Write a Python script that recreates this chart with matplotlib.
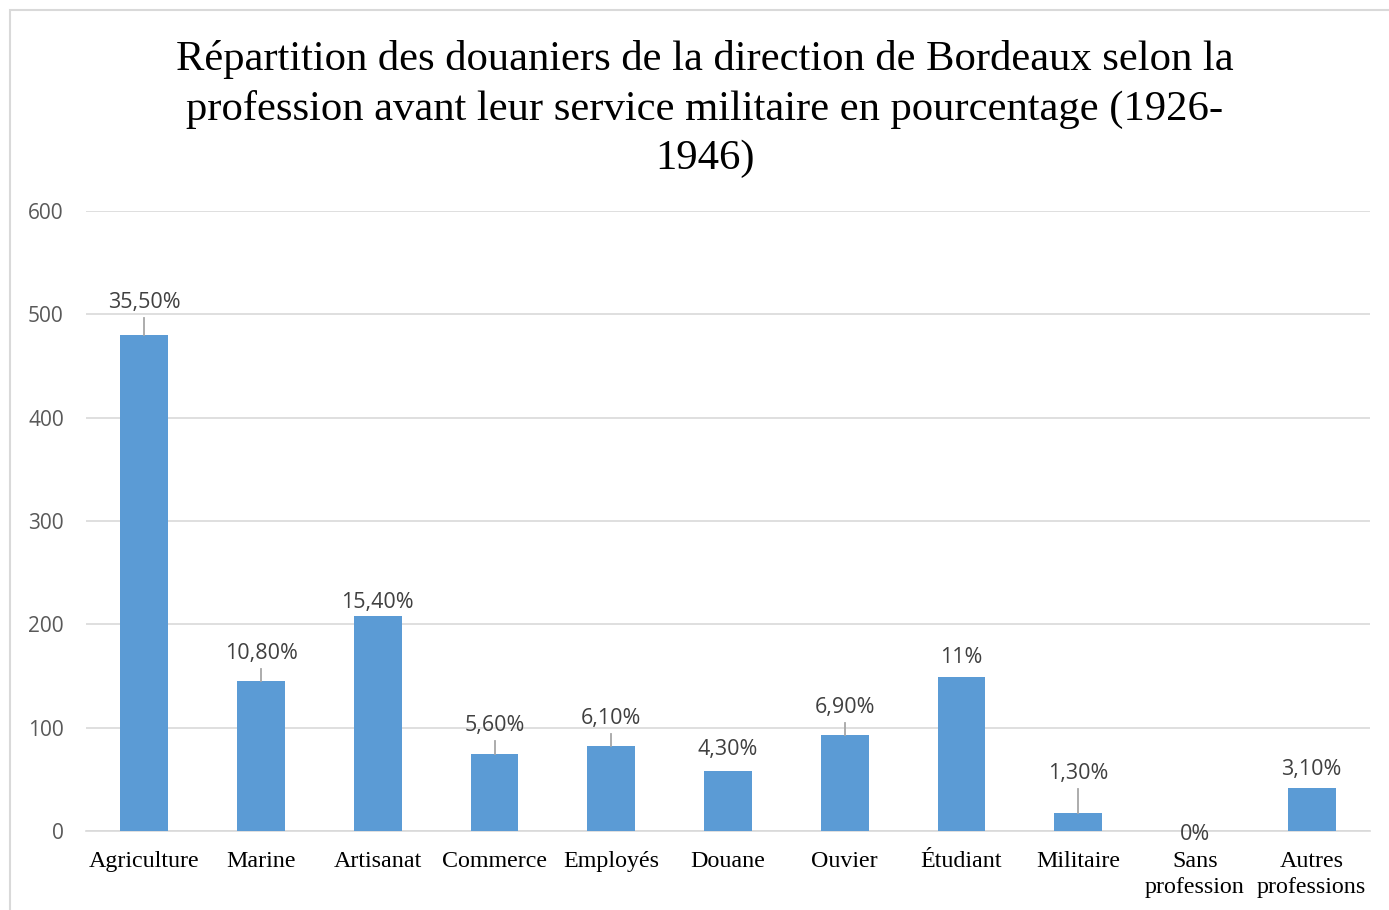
import matplotlib
matplotlib.use("Agg")
import matplotlib.pyplot as plt
from matplotlib.patches import Rectangle

categories = ["Agriculture", "Marine", "Artisanat", "Commerce", "Employés", "Douane",
              "Ouvier", "Étudiant", "Militaire", "Sans\nprofession", "Autres\nprofessions"]
values = [480, 145, 208, 75, 82, 58, 93, 149, 17, 0, 42]
labels = ["35,50%", "10,80%", "15,40%", "5,60%", "6,10%", "4,30%", "6,90%", "11%", "1,30%", "0%", "3,10%"]
yticks = [0, 100, 200, 300, 400, 500, 600]

# layout: label offsets above bar (data units) and whether a leader line is drawn
label_offsets = [31.5, 27, 13.5, 27.5, 27, 21, 27, 19, 39, -3, 18]
leader = [True, True, False, True, True, False, True, False, True, False, False]

bar_color = "#5b9bd5"
grid_color = "#d9d9d9"
text_gray = "#595959"
label_gray = "#404040"

fig = plt.figure(figsize=(13.89, 9.10), dpi=100)
ax = fig.add_axes([86/1389, 79/910, 1284/1389, 620/910])

x = list(range(len(categories)))
ax.bar(x, values, width=0.41, color=bar_color, zorder=3)

ax.set_xlim(-0.5, len(categories) - 0.5)
ax.set_ylim(0, 600)
ax.set_yticks(yticks)
ax.yaxis.grid(True, color=grid_color, linewidth=1.2, zorder=0)
for s in ["top", "right", "left"]:
    ax.spines[s].set_visible(False)
ax.spines["bottom"].set_color(grid_color)
ax.spines["bottom"].set_linewidth(1.2)
ax.spines["bottom"].set_zorder(2)
ax.tick_params(axis="both", length=0)
ax.tick_params(axis="y", pad=16, labelsize=15, labelcolor=text_gray)
ax.tick_params(axis="x", pad=14.5)
ax.set_xticks(x)
ax.set_xticklabels(categories, fontfamily="Liberation Serif", fontsize=17.3,
                   linespacing=1.3, va="top")
for t in ax.get_yticklabels():
    t.set_fontfamily("Open Sans")

for xi, v, lab, off, ld in zip(x, values, labels, label_offsets, leader):
    ly = v + off
    ax.text(xi, ly, lab, ha="center", va="center", fontsize=15.5,
            color=label_gray, fontfamily="Open Sans", zorder=5)
    if ld:
        ax.plot([xi, xi], [v, ly - 15.5], color="#a6a6a6", linewidth=1.3, zorder=4)

fig.text(705/1389, 1 - 109/910,
         "Répartition des douaniers de la direction de Bordeaux selon la\n"
         "profession avant leur service militaire en pourcentage (1926-\n1946)",
         ha="center", va="center", fontsize=30.7, fontfamily="Liberation Serif",
         linespacing=1.36, multialignment="center")

fig.patches.append(Rectangle((10/1389, -0.1), 1.2, 1.1 - 10/910,
                             transform=fig.transFigure, fill=False,
                             edgecolor=grid_color, linewidth=1.5))

fig.savefig("out.png", dpi=100)
